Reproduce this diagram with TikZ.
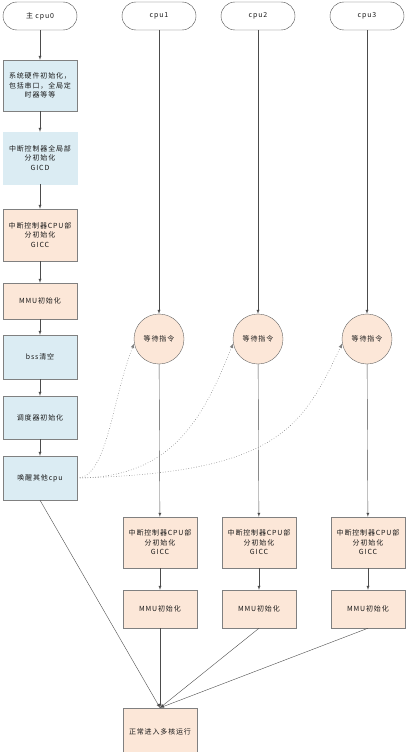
\documentclass[tikz,border=0pt]{standalone}
\usepackage{fontspec}
\setmainfont[LetterSpace=12]{Noto Sans CJK SC}
\usetikzlibrary{arrows}
\definecolor{bluefill}{RGB}{219,236,243}
\definecolor{peachfill}{RGB}{252,231,216}
\definecolor{edgegray}{RGB}{128,128,128}
\tikzstyle{startstop} = [rectangle, rounded corners=14pt, minimum width=74pt, minimum height=28pt, text centered, draw=black!70, fill=white]
\tikzstyle{bluebox} = [rectangle, minimum width=74pt, text width=70pt, inner xsep=2pt, align=center, draw=edgegray, fill=bluefill]
\tikzstyle{peachbox} = [rectangle, minimum width=74pt, text width=70pt, inner xsep=2pt, align=center, draw=edgegray, fill=peachfill]
\tikzstyle{waitstate} = [circle, minimum size=50pt, inner sep=0pt, draw=black!60, fill=peachfill]
\tikzstyle{arrow} = [->, >=latex, draw=black!70]
\tikzstyle{wakeup} = [->, >=latex, dotted, semithick, draw=black!50]

\begin{document}
\begin{tikzpicture}[x=1pt, y=-1pt, font=\fontsize{7}{9.5}\selectfont, text=black!90]
\useasboundingbox (0,0) rectangle (407,752);

% main cpu
\node (cpu0) [startstop] at (40,16) {主 cpu0};
\node (sysinit) [bluebox, minimum height=51pt] at (40,85.5) {系统硬件初始化，\\包括串口，全局定\\时器等等};
\node (gicd) [bluebox, minimum height=52pt, draw=bluefill] at (40,158) {中断控制器全局部\\分初始化\\GICD};
\node (gicc0) [peachbox, minimum height=52pt] at (40,235) {中断控制器CPU部\\分初始化\\GICC};
\node (mmu0) [peachbox, minimum height=36pt] at (40,301) {MMU初始化};
\node (bss) [bluebox, minimum height=44pt] at (40,357) {bss清空};
\node (sched) [bluebox, minimum height=43pt] at (40,417.5) {调度器初始化};
\node (wake) [bluebox, minimum height=44pt] at (40,478) {唤醒其他cpu};

% secondary cpus
\node (cpu1) [startstop] at (159,16) {cpu1};
\node (cpu2) [startstop] at (258,16) {cpu2};
\node (cpu3) [startstop] at (367,16) {cpu3};
\node (wait1) [waitstate] at (159,339) {等待指令};
\node (wait2) [waitstate] at (258,339) {等待指令};
\node (wait3) [waitstate] at (367,339) {等待指令};
\node (gicc1) [peachbox, minimum height=51pt] at (160,542.5) {中断控制器CPU部\\分初始化\\GICC};
\node (gicc2) [peachbox, minimum height=51pt] at (259,542.5) {中断控制器CPU部\\分初始化\\GICC};
\node (gicc3) [peachbox, minimum height=51pt] at (368,542.5) {中断控制器CPU部\\分初始化\\GICC};
\node (mmu1) [peachbox, minimum height=38pt] at (160,609) {MMU初始化};
\node (mmu2) [peachbox, minimum height=38pt] at (259,609) {MMU初始化};
\node (mmu3) [peachbox, minimum height=38pt] at (368,609) {MMU初始化};

\node (smp) [peachbox, minimum height=48pt] at (160,732) {正常进入多核运行};

\draw [arrow] (cpu0) -- (sysinit);
\draw [arrow] (sysinit) -- (gicd);
\draw [arrow] (gicd) -- (gicc0);
\draw [arrow] (gicc0) -- (mmu0);
\draw [arrow] (mmu0) -- (bss);
\draw [arrow] (bss) -- (sched);
\draw [arrow] (sched) -- (wake);

\draw [arrow] (cpu1) -- (wait1);
\draw [arrow] (cpu2) -- (wait2);
\draw [arrow] (cpu3) -- (wait3);
\draw [arrow] (wait1) -- (gicc1);
\draw [arrow] (wait2) -- (gicc2);
\draw [arrow] (wait3) -- (gicc3);
\draw [arrow] (gicc1) -- (mmu1);
\draw [arrow] (gicc2) -- (mmu2);
\draw [arrow] (gicc3) -- (mmu3);

\draw [wakeup] (wake.east) .. controls +(30,0) and +(-22,55) .. (wait1.190);
\draw [wakeup] (wake.east) .. controls +(95,0) and +(-30,75) .. (wait2.190);
\draw [wakeup] (wake.east) .. controls +(200,-5) and +(-40,85) .. (wait3.190);

\draw [arrow] (wake.south) -- (smp.north);
\draw [arrow] (mmu1) -- (smp.north);
\draw [arrow] (mmu2.south) -- (smp.north);
\draw [arrow] (mmu3.south) -- (smp.north);

\end{tikzpicture}
\end{document}
